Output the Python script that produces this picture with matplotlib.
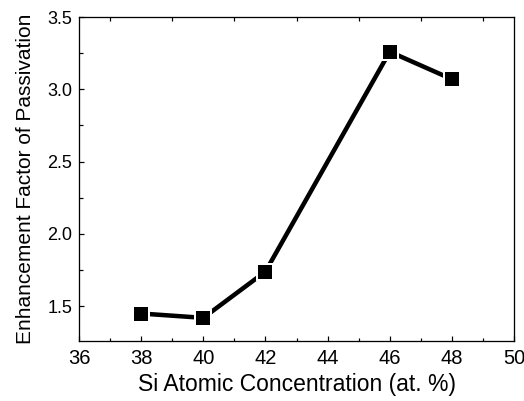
import matplotlib
matplotlib.use('Agg')
import matplotlib.pyplot as plt
from matplotlib.ticker import MultipleLocator, FixedLocator

# Data
si_conc = [38, 40, 42, 46, 48]
enhancement = [1.45, 1.42, 1.74, 3.26, 3.07]

plt.rcParams['font.family'] = ['Liberation Sans', 'DejaVu Sans']

fig = plt.figure(figsize=(5.24, 4.01), dpi=100)
ax = fig.add_axes([0.1508, 0.1496, 0.8302, 0.808])

px = 72 / 100  # points per pixel
ax.plot(si_conc, enhancement, color='black', lw=4.5 * px, solid_capstyle='butt',
        marker='s', markersize=16 * px, markerfacecolor='black',
        markeredgecolor='white', markeredgewidth=2 * px, zorder=3)

ax.set_xlim(36, 50)
ax.set_ylim(1.26, 3.5)
ax.xaxis.set_major_locator(MultipleLocator(2))
ax.xaxis.set_minor_locator(MultipleLocator(1))
ax.yaxis.set_major_locator(FixedLocator([1.5, 2.0, 2.5, 3.0, 3.5]))
ax.yaxis.set_major_formatter(plt.FormatStrFormatter('%.1f'))
ax.yaxis.set_minor_locator(FixedLocator([1.75, 2.25, 2.75, 3.25]))

ax.tick_params(which='major', direction='in', length=5 * px, width=1.2 * px,
               top=False, right=False)
ax.tick_params(which='minor', direction='in', length=3.5 * px, width=1.2 * px,
               top=True, right=False)
ax.tick_params(axis='x', which='major', labelsize=14.5, pad=6)
ax.tick_params(axis='y', which='major', labelsize=13, pad=5)

for sp in ax.spines.values():
    sp.set_linewidth(1.3 * px)

ax.set_xlabel('Si Atomic Concentration (at. %)', fontsize=16.5, labelpad=3)
ax.set_ylabel('Enhancement Factor of Passivation', fontsize=15, labelpad=9)

fig.savefig('out.png', dpi=100)
